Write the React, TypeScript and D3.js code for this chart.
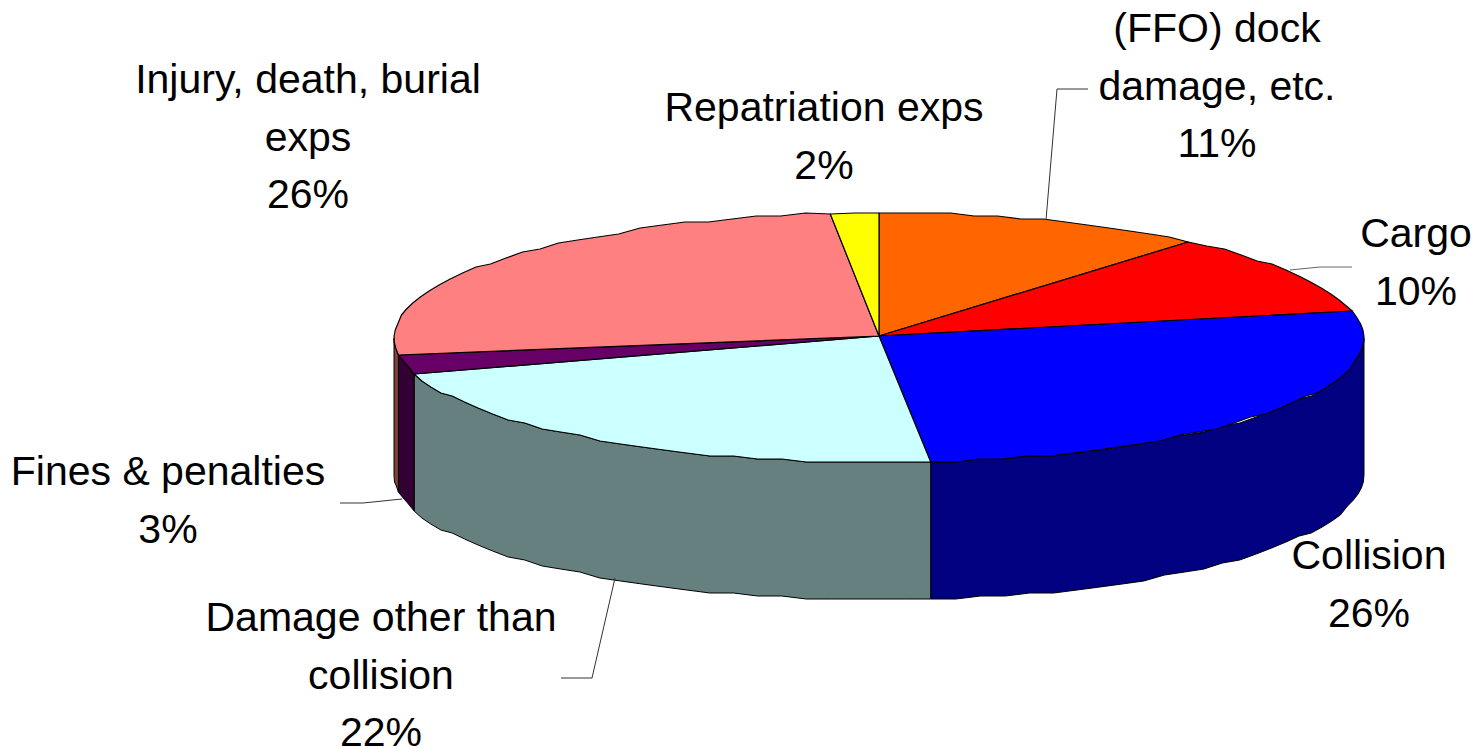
import * as d3 from "d3";

// share of the ellipse each slice covers in the picture (clockwise from 12 o'clock)
const sliceNames = ["Dock", "Cargo", "Collision", "Damage", "Fines", "Injury", "Repatriation"];
const drawnShare = [11.0, 10.5, 26.8, 22.1, 2.45, 25.55, 1.6];
const topColors = ["#FF6600", "#FF0000", "#0000FF", "#CCFFFF", "#660066", "#FF8080", "#FFFF00"];
const sideColors = ["#803300", "#800000", "#000080", "#668080", "#330033", "#804040", "#808000"];

const labelLines = [
  ["(FFO) dock", "damage, etc.", "11%"],
  ["Cargo", "10%"],
  ["Collision", "26%"],
  ["Damage other than", "collision", "22%"],
  ["Fines & penalties", "3%"],
  ["Injury, death, burial", "exps", "26%"],
  ["Repatriation exps", "2%"],
];
const labelAnchors = [
  [1217, 42],
  [1416, 247],
  [1369, 569],
  [381, 631],
  [168, 485],
  [308, 93],
  [824, 121],
];
const leaders = [
  { points: [[1046, 220], [1057, 89], [1088, 89]], stroke: "#333" },
  { points: [[1290, 270], [1320, 267], [1352, 267]], stroke: "#666" },
  { points: [[615, 578], [592, 678], [561, 678]], stroke: "#333" },
  { points: [[402, 499], [363, 503], [340, 503]], stroke: "#333" },
];

const width = 1479;
const height = 748;
const depth = 137;
const lineHeight = 57.7;
const hubY = 336; // perspective puts the pie's hub a little above the ellipse centre

const x = d3.scaleLinear().domain([-1, 1]).range([394, 1364]);
const y = d3.scaleLinear().domain([1, -1]).range([213, 463]);

const slices = d3.pie<number>().sort(null)(drawnShare);

// walk the rim in small steps, snapped to a coarse grid like the original low-res polygon
function rim(a0: number, a1: number, drop = 0): [number, number][] {
  const step = (3 * Math.PI) / 180;
  const n = Math.max(1, Math.ceil((a1 - a0) / step));
  return d3.range(n + 1).map((i) => {
    const a = a0 + ((a1 - a0) * i) / n;
    const snap = i === 0 || i === n ? 1 : 3;
    return [
      x(Math.sin(a)),
      Math.round(y(Math.cos(a)) / snap) * snap + drop,
    ] as [number, number];
  });
}

const line = d3.line();

export default function App() {
  const cx = x(0);
  const lo = Math.PI / 2;
  const hi = (3 * Math.PI) / 2;

  return (
    <svg
      width={width}
      height={height}
      style={{ position: "absolute", left: 0, top: 0, background: "#fff" }}
      fontFamily="'Liberation Sans', Arial, sans-serif"
      fontSize={41}
    >
      {/* side walls, only the part of each slice facing the viewer */}
      {slices.map((s, i) => {
        const a0 = Math.max(s.startAngle, lo);
        const a1 = Math.min(s.endAngle, hi);
        if (a1 <= a0) return null;
        const pts = [...rim(a0, a1), ...rim(a0, a1, depth).reverse()];
        return (
          <path
            key={sliceNames[i]}
            d={line(pts) + "Z"}
            fill={sideColors[i]}
            stroke="#000"
            strokeWidth={1}
          />
        );
      })}
      {/* top faces */}
      {slices.map((s, i) => (
        <path
          key={sliceNames[i]}
          d={line([[cx, hubY], ...rim(s.startAngle, s.endAngle)]) + "Z"}
          fill={topColors[i]}
          stroke="#000"
          strokeWidth={1.2}
          strokeLinejoin="round"
        />
      ))}
      {leaders.map((l, i) => (
        <path key={i} d={line(l.points as [number, number][])!} fill="none" stroke={l.stroke} strokeWidth={1} />
      ))}
      {labelLines.map((lines, i) => (
        <text key={i} textAnchor="middle" fill="#000">
          {lines.map((t, j) => (
            <tspan key={j} x={labelAnchors[i][0]} y={labelAnchors[i][1] + j * lineHeight}>
              {t}
            </tspan>
          ))}
        </text>
      ))}
    </svg>
  );
}
